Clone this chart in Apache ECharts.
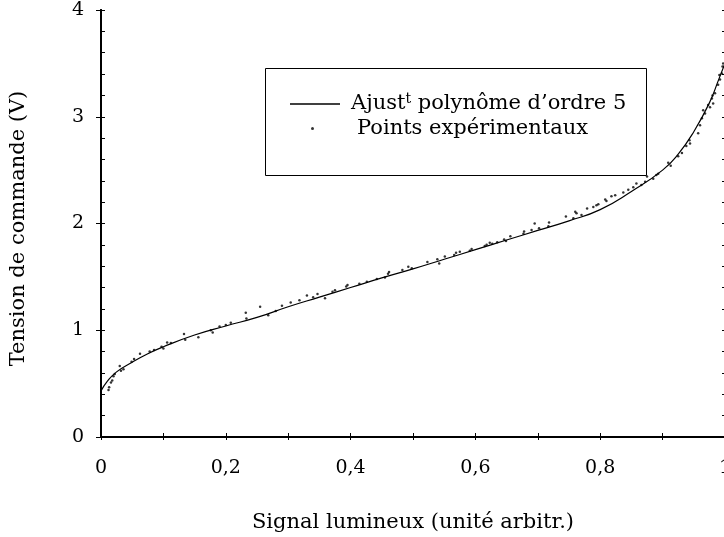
<!DOCTYPE html>
<html>
<head>
<meta charset="utf-8">
<script src="https://cdn.jsdelivr.net/npm/echarts@6/dist/echarts.min.js"></script>
<style>
  html, body { margin: 0; padding: 0; background: #fff; }
  #chart { width: 724px; height: 537px; }
</style>
</head>
<body>
<div id="chart"></div>
<script>
// courbe d'ajustement (polynôme d'ordre 5)
const fitX = [0, 0.01, 0.025, 0.05, 0.075, 0.1, 0.15, 0.2, 0.25, 0.3, 0.35, 0.4, 0.45, 0.5, 0.55, 0.6, 0.65, 0.7, 0.75, 0.8, 0.85, 0.9, 0.925, 0.95, 0.975, 0.99, 1.0]
const fitY = [0.43, 0.52, 0.61, 0.70, 0.78, 0.845, 0.955, 1.04, 1.12, 1.22, 1.31, 1.40, 1.49, 1.575, 1.665, 1.755, 1.845, 1.935, 2.025, 2.13, 2.30, 2.50, 2.65, 2.86, 3.13, 3.35, 3.50]

// points expérimentaux
const ptX = [0.012, 0.013, 0.016, 0.018, 0.02, 0.022, 0.03, 0.032, 0.036, 0.049, 0.053, 0.0625, 0.078, 0.085, 0.097, 0.10, 0.106, 0.112, 0.133, 0.135, 0.156, 0.176, 0.179, 0.19, 0.20, 0.208, 0.232, 0.233, 0.255, 0.268,
  0.28, 0.29, 0.304, 0.318, 0.33, 0.34, 0.347, 0.359, 0.371, 0.375, 0.393, 0.395, 0.414, 0.426, 0.442, 0.455, 0.46, 0.4616, 0.483, 0.498, 0.4925, 0.523, 0.539, 0.542, 0.551, 0.566, 0.569, 0.575, 0.591, 0.594,
  0.615, 0.618, 0.623, 0.627, 0.635, 0.646, 0.649, 0.656, 0.677, 0.678, 0.69, 0.695, 0.702, 0.717, 0.718, 0.745, 0.757, 0.76, 0.762, 0.77, 0.779, 0.789, 0.794, 0.797, 0.808, 0.81, 0.818, 0.824, 0.837, 0.845,
  0.853, 0.858, 0.866, 0.872, 0.885, 0.89, 0.875, 0.893, 0.909, 0.913, 0.925, 0.931, 0.938, 0.943, 0.944, 0.957, 0.96, 0.963, 0.965, 0.968, 0.973, 0.979, 0.981, 0.984, 0.989, 0.991, 0.992, 0.995, 0.996, 0.997, 0.976, 0.98]
const ptY = [0.44, 0.465, 0.51, 0.53, 0.57, 0.59, 0.665, 0.62, 0.635, 0.705, 0.73, 0.78, 0.80, 0.815, 0.845, 0.83, 0.885, 0.88, 0.965, 0.91, 0.935, 1.0, 0.98, 1.035, 1.05, 1.07, 1.165, 1.11, 1.22, 1.14,
  1.18, 1.23, 1.26, 1.28, 1.325, 1.31, 1.34, 1.30, 1.36, 1.375, 1.41, 1.425, 1.435, 1.455, 1.48, 1.495, 1.53, 1.545, 1.565, 1.58, 1.595, 1.64, 1.665, 1.625, 1.69, 1.705, 1.725, 1.735, 1.745, 1.76,
  1.79, 1.80, 1.82, 1.81, 1.825, 1.85, 1.835, 1.88, 1.905, 1.925, 1.94, 2.0, 1.955, 1.975, 2.01, 2.065, 2.05, 2.11, 2.095, 2.08, 2.14, 2.155, 2.17, 2.18, 2.225, 2.21, 2.255, 2.265, 2.29, 2.315,
  2.34, 2.375, 2.36, 2.39, 2.42, 2.455, 2.44, 2.465, 2.57, 2.54, 2.63, 2.66, 2.725, 2.78, 2.75, 2.845, 2.92, 2.985, 3.06, 3.03, 3.11, 3.17, 3.125, 3.22, 3.30, 3.39, 3.35, 3.405, 3.47, 3.50, 3.09, 3.20]

const xTicks = ['0', '0,2', '0,4', '0,6', '0,8', '1']
const yTicks = ['0', '1', '2', '3', '4']

const police = 'DejaVu Serif'
const tailleGrad = 19
const taille = 21
let chart = echarts.init(document.getElementById('chart'))

const noir = { color: '#000', width: 1 }
const axeTrait = { show: true, lineStyle: { color: '#000', width: 2 } }
const sansTrait = { show: false }
const rien = { show: false }

// axe de graduations seules (ticks internes), sans ligne ni étiquettes
function graduations (pos, min, max, pas, longueur) {
  return {
    type: 'value', min: min, max: max, interval: pas, position: pos,
    axisLine: sansTrait,
    axisTick: { show: true, inside: true, length: longueur, lineStyle: noir },
    axisLabel: rien, splitLine: rien
  }
}

let option = {
  animation: false,
  backgroundColor: '#fff',
  grid: { left: 101, top: 10, width: 624, height: 427, containLabel: false, outerBoundsMode: 'none' },
  graphic: [
    // cadre de la légende
    { type: 'rect', left: 263, top: 66, shape: { width: 381, height: 107 }, style: { fill: 'none', stroke: '#000', lineWidth: 1 }, z: 10 }
  ],
  legend: [
    {
      data: [{ name: 'fit', icon: 'rect' }],
      left: 290, top: 92, padding: 0,
      itemWidth: 50, itemHeight: 1.3,
      formatter: () => 'Ajust{sup|t} polynôme d’ordre 5',
      textStyle: {
        fontFamily: police, fontSize: taille, color: '#000', padding: [0, 0, 0, 6],
        rich: { sup: { fontFamily: police, fontSize: 14, color: '#000', verticalAlign: 'top', padding: [0, 0, 10, 0] } }
      }
    },
    {
      data: [{ name: 'pts', icon: 'circle' }],
      left: 311, top: 118, padding: 0,
      itemWidth: 3, itemHeight: 3,
      formatter: () => 'Points expérimentaux',
      textStyle: { fontFamily: police, fontSize: taille, color: '#000', padding: [0, 0, 0, 38] }
    }
  ],
  xAxis: [
    {
      type: 'value', min: 0, max: 1, interval: 0.2,
      name: 'Signal lumineux (unité arbitr.)', nameLocation: 'middle', nameGap: 75,
      nameTextStyle: { fontFamily: police, fontSize: taille, color: '#000' },
      axisLine: axeTrait,
      axisTick: { show: true, inside: true, length: 4, lineStyle: noir },
      axisLabel: { margin: 22, fontFamily: police, fontSize: tailleGrad, color: '#000', formatter: (v, i) => xTicks[i] },
      splitLine: rien
    },
    graduations('bottom', 0, 1, 0.1, 4),
    {
      type: 'value', min: 0, max: 1, interval: 0.1, position: 'top',
      axisLine: axeTrait,
      axisTick: { show: true, inside: true, length: 3, lineStyle: noir },
      axisLabel: rien, splitLine: rien
    }
  ],
  yAxis: [
    {
      type: 'value', min: 0, max: 4, interval: 1, position: 'left',
      name: 'Tension de commande (V)', nameLocation: 'middle', nameGap: 72,
      nameTextStyle: { fontFamily: police, fontSize: taille, color: '#000', padding: [0, 10, 0, 0] },
      axisLine: axeTrait,
      axisTick: { show: true, inside: true, length: 4, lineStyle: noir },
      axisLabel: { margin: 17, fontFamily: police, fontSize: tailleGrad, color: '#000', formatter: (v, i) => yTicks[i] },
      splitLine: rien
    },
    graduations('left', 0, 4, 0.2, 4),
    {
      type: 'value', min: 0, max: 4, interval: 1, position: 'right',
      axisLine: axeTrait,
      axisTick: { show: true, inside: true, length: 5, lineStyle: noir },
      axisLabel: rien, splitLine: rien
    },
    graduations('right', 0, 4, 0.2, 3)
  ],
  series: [
    {
      name: 'fit', type: 'line', smooth: true, symbol: 'none',
      data: fitX.map((x, i) => [x, fitY[i]]),
      lineStyle: { color: '#000', width: 1.2 }, itemStyle: { color: '#000' }
    },
    {
      name: 'pts', type: 'scatter', symbol: 'circle', symbolSize: 2.5,
      data: ptX.map((x, i) => [x, ptY[i]]),
      itemStyle: { color: '#000' }
    }
  ]
}
chart.setOption(option)
</script>
</body>
</html>
